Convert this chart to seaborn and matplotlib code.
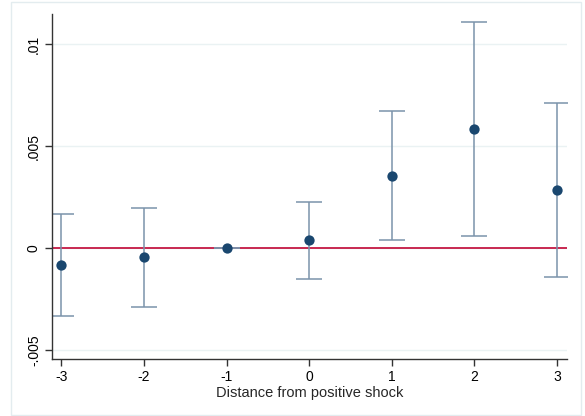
import numpy as np
import pandas as pd
import matplotlib
matplotlib.use("Agg")
import matplotlib.pyplot as plt
import seaborn as sns
from matplotlib.patches import Rectangle

# Data
distance = [-3, -2, -1, 0, 1, 2, 3]
coef = [-0.00083, -0.00044, 0.0, 0.00039, 0.00353, 0.00583, 0.00284]
ci_low = [-0.00333, -0.00289, 0.0, -0.00152, 0.00039, 0.00059, -0.00142]
ci_high = [0.00167, 0.00196, 0.0, 0.00225, 0.00672, 0.01108, 0.00711]
yticks = [-0.005, 0, 0.005, 0.01]
ytick_labels = ["-.005", "0", ".005", ".01"]
xlabel = "Distance from positive shock"

df = pd.DataFrame({"distance": distance, "coef": coef, "lo": ci_low, "hi": ci_high})

sns.set_style("white")
plt.rcParams['font.family'] = ['Liberation Sans', 'DejaVu Sans']

fig = plt.figure(figsize=(5.85, 4.16), dpi=100)
ax = fig.add_axes([52/585, 57/416, (567-52)/585, (359-14)/416])

# outer frame
fig.patches.append(Rectangle((11/585, 1/416), 570/585, 413/416, transform=fig.transFigure,
                             fill=False, edgecolor="#e3ecef", linewidth=1.0))

# grid lines
for yv in yticks:
    ax.axhline(yv, color="#eaf2f3", linewidth=1.0, zorder=0)

# zero reference line
ax.axhline(0, color="#c10534", linewidth=1.2, zorder=1)

# CIs
yerr = np.vstack([df["coef"] - df["lo"], df["hi"] - df["coef"]])
ax.errorbar(df["distance"], df["coef"], yerr=yerr, fmt="none", ecolor="#7b93ab",
            elinewidth=1.1, capsize=9.5, capthick=1.1, zorder=2)

sns.scatterplot(data=df, x="distance", y="coef", ax=ax, color="#1a476f", s=55,
                edgecolor="#1a476f", linewidth=0, zorder=3)

ax.set_xlim(-3.115, 3.12)
ax.set_ylim(-0.00544, 0.01147)
ax.set_xticks(distance)
ax.set_xticklabels([str(d) for d in distance], fontsize=10)
ax.set_yticks(yticks)
ax.set_yticklabels(ytick_labels, fontsize=10, rotation=90, va="center")
ax.set_xlabel(xlabel, fontsize=10.5, labelpad=1)
ax.set_ylabel("")

for s in ["top", "right"]:
    ax.spines[s].set_visible(False)
for s in ["left", "bottom"]:
    ax.spines[s].set_color("#333333")
    ax.spines[s].set_linewidth(1.0)
ax.tick_params(axis="both", which="both", direction="out", length=5, width=1,
               color="#333333", labelcolor="black", pad=3)
ax.tick_params(axis="y", left=True)
ax.tick_params(axis="x", bottom=True)

fig.savefig("out.png", dpi=100)
